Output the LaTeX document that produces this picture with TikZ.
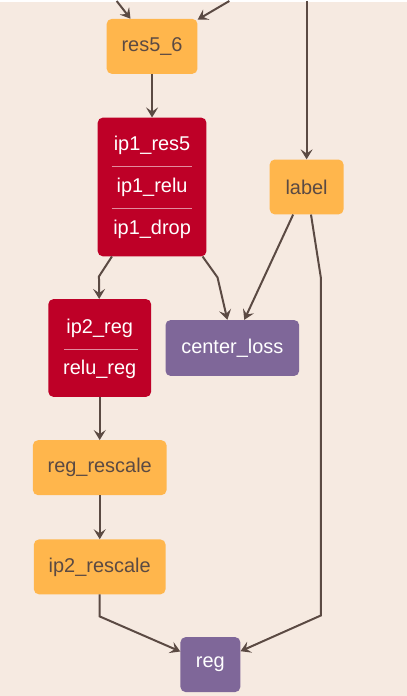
\documentclass[tikz,border=0pt]{standalone}
\usepackage{fontspec}
\setmainfont{Liberation Sans}
\usepackage{tikz}
\usetikzlibrary{arrows.meta, positioning}

\definecolor{bgcol}{HTML}{F6EAE1}
\definecolor{layerorange}{HTML}{FFB64C}
\definecolor{layerred}{HTML}{BE0027}
\definecolor{layerpurple}{HTML}{7F6799}
\definecolor{edgecol}{HTML}{5B4A43}

\tikzset{
    layer/.style={rounded corners=5pt, inner sep=0pt, minimum height=55pt,
        font=\fontsize{20}{24}\selectfont},
    datalayer/.style={layer, fill=layerorange, text=edgecol},
    blocklayer/.style={layer, fill=layerred, text=white},
    losslayer/.style={layer, fill=layerpurple, text=white},
    blocktext/.style={inner sep=0pt, text=white, font=\fontsize{20}{24}\selectfont},
    sepline/.style={line width=1pt, color=layerred!45!white},
    edge/.style={line width=2pt, color=edgecol, rounded corners=0pt,
        -{Stealth[length=10pt, width=12pt, inset=4pt]}}
}

\begin{document}
\begin{tikzpicture}[x=1pt, y=-1pt]
    \fill[bgcol] (0,0) rectangle (408,696);

    % layers
    \node[datalayer, minimum width=91pt] (res56) at (152.5,44.5) {res5\_6};
    \node[datalayer, minimum width=74pt] (label) at (307.5,185.5) {label};

    \node[blocklayer, minimum width=109pt, minimum height=139pt] (ip1) at (152.5,185.5) {};
    \node[blocktext] (ip1res5) at (152.5,144) {ip1\_res5};
    \node[blocktext] (ip1relu) at (152.5,186) {ip1\_relu};
    \node[blocktext] (ip1drop) at (152.5,228) {ip1\_drop};
    \foreach \y in {165,207}
        \draw[sepline] (112,\y) -- (193,\y);

    \node[blocklayer, minimum width=103pt, minimum height=98pt] (ip2) at (100,347) {};
    \node[blocktext] (ip2reg) at (100,327) {ip2\_reg};
    \node[blocktext] (relureg) at (100,368) {relu\_reg};
    \draw[sepline] (64,348) -- (138,348);

    \node[losslayer, minimum width=134pt, minimum height=56pt] (centerloss) at (233,347) {center\_loss};
    \node[datalayer, minimum width=134pt] (regrescale) at (100,467) {reg\_rescale};
    \node[datalayer, minimum width=132pt] (ip2rescale) at (100,566.5) {ip2\_rescale};
    \node[losslayer, minimum width=60pt] (reg) at (211,664.5) {reg};

    % incoming from above
    \coordinate (in1) at (117,-1);
    \coordinate (in2) at (230,-1);
    \coordinate (in3) at (307.5,-1);

    % edges
    \draw[edge] (in1) -- (res56);
    \draw[edge] (in2) -- (res56);
    \draw[edge] (in3) -- (label);
    \draw[edge] (res56) -- (ip1);
    \draw[edge] (ip1.240) -- ++(-13,20) -- (ip2);
    \draw[edge] (ip1.306) -- ++(15,21) -- (centerloss.100);
    \draw[edge] (label.244) -- (centerloss.67);
    \draw[edge] (label.279) -- ++(10,64) -- ++(0,338) -- (reg);
    \draw[edge] (ip2) -- (regrescale);
    \draw[edge] (regrescale) -- (ip2rescale);
    \draw[edge] (ip2rescale.south) -- ++(0,22) -- (reg);
\end{tikzpicture}
\end{document}
